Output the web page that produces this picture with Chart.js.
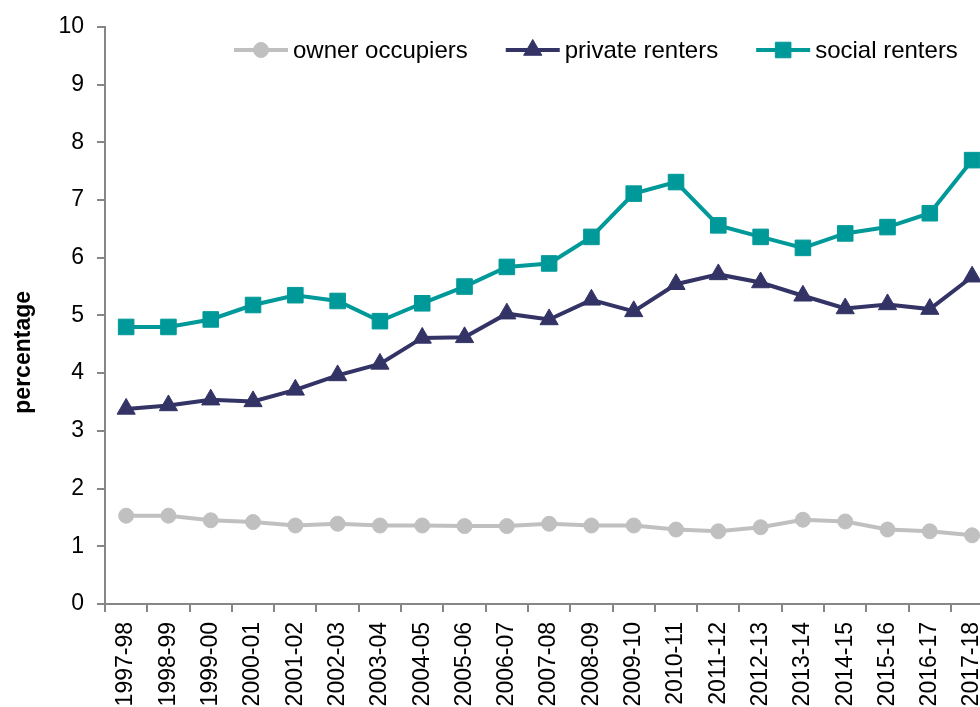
<!DOCTYPE html>
<html>
<head>
<meta charset="utf-8">
<script src="https://cdn.jsdelivr.net/npm/chart.js@4"></script>
<style>
  html, body { margin: 0; padding: 0; background: #fff; overflow: hidden; }
  #wrap { width: 1010px; height: 707px; position: relative; }
</style>
</head>
<body>
<div id="wrap"><canvas id="c"></canvas></div>
<script>
const categories = ['1997-98','1998-99','1999-00','2000-01','2001-02','2002-03','2003-04','2004-05','2005-06','2006-07','2007-08','2008-09','2009-10','2010-11','2011-12','2012-13','2013-14','2014-15','2015-16','2016-17','2017-18'];
const ownerOccupiers = [1.53,1.53,1.45,1.42,1.36,1.39,1.36,1.36,1.35,1.35,1.39,1.36,1.36,1.29,1.26,1.33,1.46,1.43,1.29,1.26,1.19];
const privateRenters = [3.38,3.44,3.54,3.51,3.71,3.96,4.16,4.61,4.62,5.03,4.93,5.27,5.07,5.54,5.71,5.57,5.34,5.12,5.19,5.11,5.67];
const socialRenters = [4.80,4.80,4.93,5.18,5.35,5.25,4.90,5.21,5.50,5.84,5.90,6.36,7.11,7.31,6.56,6.36,6.17,6.42,6.53,6.77,7.69];
const seriesNames = ['owner occupiers','private renters','social renters'];
const yTicks = [0,1,2,3,4,5,6,7,8,9,10];
const yTitle = 'percentage';

const FONT = 'Liberation Sans, Arial, sans-serif';
const AXIS = '#868686';

function drawMarker(ctx, style, r, x, y, color) {
  ctx.save();
  ctx.fillStyle = color; ctx.strokeStyle = color; ctx.lineWidth = 1;
  ctx.beginPath();
  if (style === 'circle') {
    ctx.arc(x, y, r, 0, Math.PI * 2);
  } else if (style === 'triangle') {
    ctx.moveTo(x, y - r);
    ctx.lineTo(x + Math.sin(2*Math.PI/3) * r, y + 0.5 * r);
    ctx.lineTo(x - Math.sin(2*Math.PI/3) * r, y + 0.5 * r);
  } else {
    const s = Math.SQRT1_2 * r;
    ctx.rect(x - s, y - s, 2*s, 2*s);
  }
  ctx.closePath(); ctx.fill(); ctx.stroke();
  ctx.restore();
}

const customLegend = {
  id: 'customLegend',
  afterDraw(chart) {
    const ctx = chart.ctx;
    ctx.save();
    ctx.font = '24px ' + FONT;
    ctx.textBaseline = 'middle';
    ctx.fillStyle = '#000';
    let x = 234;
    const y = 50;
    chart.data.datasets.forEach(ds => {
      ctx.strokeStyle = ds.borderColor;
      ctx.lineWidth = ds.borderWidth;
      ctx.beginPath(); ctx.moveTo(x, y); ctx.lineTo(x + 54, y); ctx.stroke();
      drawMarker(ctx, ds.pointStyle, ds.pointRadius, x + 27, y, ds.borderColor);
      ctx.fillStyle = '#000';
      ctx.fillText(ds.label, x + 59, y + 1);
      x += 59 + ctx.measureText(ds.label).width + 38;
    });
    // y-axis title
    const a = chart.chartArea;
    ctx.translate(24, a.top + (a.bottom - a.top) * 0.564);
    ctx.rotate(-Math.PI / 2);
    ctx.font = 'bold 23px ' + FONT;
    ctx.textAlign = 'center';
    ctx.fillText(yTitle, 0, 0);
    ctx.restore();
  }
};

function mkDs(label, data, color, style, r) {
  return {
    label, data,
    borderColor: color, backgroundColor: color,
    borderWidth: 4, tension: 0,
    pointStyle: style, pointRadius: r, pointHoverRadius: r,
    pointBorderWidth: 1, pointBackgroundColor: color, pointBorderColor: color,
    clip: false
  };
}

new Chart(document.getElementById('c'), {
  type: 'line',
  data: {
    labels: categories,
    datasets: [
      mkDs(seriesNames[0], ownerOccupiers, '#C0C0C0', 'circle', 7.5),
      mkDs(seriesNames[1], privateRenters, '#333366', 'triangle', 10.5),
      mkDs(seriesNames[2], socialRenters, '#009999', 'rect', 11)
    ]
  },
  options: {
    responsive: true,
    maintainAspectRatio: false,
    animation: false,
    layout: { padding: { top: 25, right: 7, left: 0, bottom: 0 } },
    plugins: { legend: { display: false }, tooltip: { enabled: false } },
    scales: {
      x: {
        type: 'category',
        offset: true,
        grid: { offset: true, drawOnChartArea: false, drawTicks: true, tickLength: 8, color: AXIS, lineWidth: 2 },
        border: { color: AXIS, width: 2 },
        ticks: { minRotation: 90, maxRotation: 90, autoSkip: false, color: '#000', font: { family: FONT, size: 23 }, padding: 10 },
        afterFit(s) { s.height = 103; }
      },
      y: {
        min: 0, max: 10,
        afterBuildTicks(s) { s.ticks = yTicks.map(v => ({ value: v })); },
        grid: { drawOnChartArea: false, drawTicks: true, tickLength: 8, color: AXIS, lineWidth: 2 },
        border: { color: AXIS, width: 2 },
        ticks: { color: '#000', font: { family: FONT, size: 23 }, padding: 13 },
        afterFit(s) { s.width = 105; }
      }
    }
  },
  plugins: [customLegend]
});
</script>
</body>
</html>
